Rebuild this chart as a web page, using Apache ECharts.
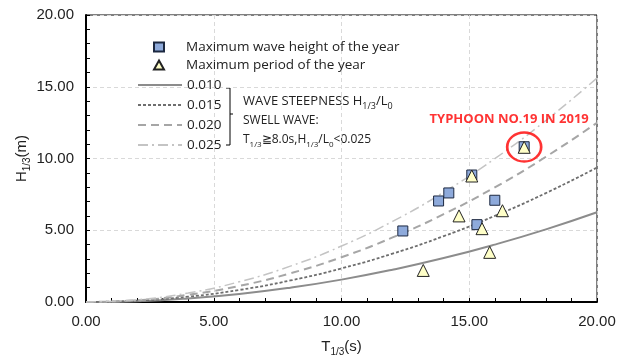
<!DOCTYPE html>
<html>
<head>
<meta charset="utf-8">
<script src="https://cdn.jsdelivr.net/npm/echarts@6/dist/echarts.min.js"></script>
<style>
  html, body { margin: 0; padding: 0; background: #fff; }
  #chart { width: 627px; height: 358px; }
</style>
</head>
<body>
<div id="chart"></div>
<script>
// 波形勾配曲線 (T, H)
const periodT = [0, 2, 4, 6, 8, 10, 12, 14, 16, 18, 20];
const steep010 = [0, 0.06, 0.25, 0.56, 1.00, 1.56, 2.25, 3.06, 4.00, 5.06, 6.25];
const steep015 = [0, 0.09, 0.37, 0.84, 1.50, 2.34, 3.37, 4.59, 6.00, 7.59, 9.37];
const steep020 = [0, 0.12, 0.50, 1.12, 2.00, 3.12, 4.50, 6.12, 7.99, 10.12, 12.49];
const steep025 = [0, 0.16, 0.62, 1.41, 2.50, 3.90, 5.62, 7.65, 9.99, 12.65, 15.61];

// 年最大波高
const waveT = [12.4, 13.8, 14.2, 15.1, 16.0, 15.3, 17.15];
const waveH = [4.95, 7.04, 7.6, 8.85, 7.09, 5.39, 10.82];
// 年最大周期
const periodMaxT = [13.2, 14.6, 15.1, 15.5, 16.3, 15.8, 17.15];
const periodMaxH = [2.2, 6.0, 8.78, 5.11, 6.36, 3.46, 10.78];

// 台風19号
const typhoon = [17.15, 10.8];

const xTicks = [0, 5, 10, 15, 20];
const yTicks = [0, 5, 10, 15, 20];

const pair = (xs, ys) => xs.map((x, i) => [x, ys[i]]);

const chart = echarts.init(document.getElementById('chart'));

const font = 'Liberation Sans';
const legendFont = 'Open Sans';

const curve = (name, data, color, width, type) => ({
  name,
  type: 'line',
  smooth: true,
  symbol: 'none',
  data: pair(periodT, data),
  lineStyle: { color, width, type },
  itemStyle: { color },
  z: 2
});

const subRich = (size) => ({
  m: { fontSize: size, lineHeight: 20, color: '#222', fontFamily: font },
  s: { fontSize: size - 5, lineHeight: 10, verticalAlign: 'bottom', color: '#222', fontFamily: font }
});

chart.setOption({
  animation: false,
  grid: {
    left: 86, right: 30, top: 15, bottom: 56,
    outerBoundsMode: 'none',
    show: true, borderColor: '#000', borderWidth: 1
  },
  legend: [
    {
      data: ['Maximum wave height of the year', 'Maximum period of the year'],
      orient: 'vertical', left: 148, top: 35,
      itemWidth: 10, itemHeight: 9, itemGap: 4,
      textStyle: { fontFamily: legendFont, fontSize: 13.5, color: '#222', lineHeight: 14,
        padding: [0, 0, 0, 17] }
    },
    {
      data: ['0.010', '0.015', '0.020', '0.025'],
      orient: 'vertical', left: 132, top: 73,
      itemWidth: 44, itemHeight: 12, itemGap: 6,
      itemStyle: { opacity: 0 },
      textStyle: { fontFamily: legendFont, fontSize: 13.5, color: '#222', lineHeight: 14 }
    }
  ],
  xAxis: {
    type: 'value', min: xTicks[0], max: xTicks[xTicks.length - 1], interval: 5,
    name: '{m|T}{s|1/3}{m|(s)}',
    nameLocation: 'middle', nameGap: 35,
    nameTextStyle: { rich: subRich(15) },
    axisLine: { lineStyle: { color: '#000', width: 2 } },
    axisTick: { inside: true, length: 4, lineStyle: { color: '#000' } },
    minorTick: { show: true, splitNumber: 5, length: 4, lineStyle: { color: '#000' } },
    axisLabel: { fontFamily: font, fontSize: 15, color: '#222', margin: 12,
      formatter: v => v.toFixed(2) },
    splitLine: { show: true, lineStyle: { color: '#d9d9d9', type: [4, 3] } }
  },
  yAxis: {
    type: 'value', min: yTicks[0], max: yTicks[yTicks.length - 1], interval: 5,
    name: '{m|H}{s|1/3}{m|(m)}',
    nameLocation: 'middle', nameGap: 54, nameMoveOverlap: false,
    nameTextStyle: { rich: subRich(15) },
    axisLine: { show: true, lineStyle: { color: '#000', width: 2 } },
    axisTick: { show: true, inside: true, length: 4, lineStyle: { color: '#000' } },
    minorTick: { show: true, splitNumber: 5, length: 4, lineStyle: { color: '#000' } },
    axisLabel: { fontFamily: font, fontSize: 15, color: '#222', margin: 12,
      formatter: v => v.toFixed(2) },
    splitLine: { show: true, lineStyle: { color: '#d9d9d9', type: [4, 3] } }
  },
  series: [
    curve('0.010', steep010, '#8c8c8c', 2, 'solid'),
    curve('0.015', steep015, '#6e6e6e', 1.8, [3, 2]),
    curve('0.020', steep020, '#a6a6a6', 2, [8, 5]),
    curve('0.025', steep025, '#c4c4c4', 1.5, [10, 4, 2, 4]),
    {
      name: 'Maximum wave height of the year',
      type: 'scatter', symbol: 'rect', symbolSize: 10,
      data: pair(waveT, waveH),
      itemStyle: { color: '#8eaadb', borderColor: '#1c2840', borderWidth: 1, opacity: 1 },
      z: 3
    },
    {
      name: 'Maximum period of the year',
      type: 'scatter', symbol: 'triangle', symbolSize: [12, 12],
      data: pair(periodMaxT, periodMaxH),
      itemStyle: { color: '#ffffc8', borderColor: '#222', borderWidth: 1, opacity: 1 },
      z: 4
    },
    {
      name: 'typhoon',
      type: 'scatter', symbol: 'circle', symbolSize: [34, 29],
      data: [typhoon],
      itemStyle: { color: 'rgba(0,0,0,0)', borderColor: '#ff0000', borderWidth: 2.5 },
      label: {
        show: true, position: 'top', offset: [-15, -1],
        formatter: 'TYPHOON NO.19 IN 2019',
        color: '#ff0000', fontWeight: 'bold', fontSize: 13, fontFamily: legendFont
      },
      silent: true,
      z: 5
    }
  ],
  graphic: [
    {
      type: 'polyline', silent: true,
      shape: { points: [[226, 88], [230, 88], [230, 145], [226, 145]] },
      style: { stroke: '#000', lineWidth: 1, fill: null }
    },
    {
      type: 'line', silent: true,
      shape: { x1: 230, y1: 114, x2: 233, y2: 114 },
      style: { stroke: '#000', lineWidth: 1 }
    },
    {
      type: 'text', left: 243, top: 95,
      style: {
        text: '{m|WAVE STEEPNESS H}{s|1/3}{m|/L}{s|0}',
        rich: {
          m: { fontFamily: legendFont, fontSize: 13, lineHeight: 18, fill: '#222' },
          s: { fontFamily: legendFont, fontSize: 9, lineHeight: 9, verticalAlign: 'bottom', fill: '#222' }
        }
      }
    },
    {
      type: 'text', left: 243, top: 115,
      style: { text: 'SWELL WAVE:', fontFamily: legendFont, fontSize: 12, fill: '#222' }
    },
    {
      type: 'text', left: 243, top: 134,
      style: {
        text: '{m|T}{s|1/3}{m|≧8.0s,H}{s|1/3}{m|/L}{s|0}{m|<0.025}',
        rich: {
          m: { fontFamily: legendFont, fontSize: 12, lineHeight: 17, fill: '#222' },
          s: { fontFamily: legendFont, fontSize: 8, lineHeight: 8, verticalAlign: 'bottom', fill: '#222' }
        }
      }
    }
  ]
});
</script>
</body>
</html>
